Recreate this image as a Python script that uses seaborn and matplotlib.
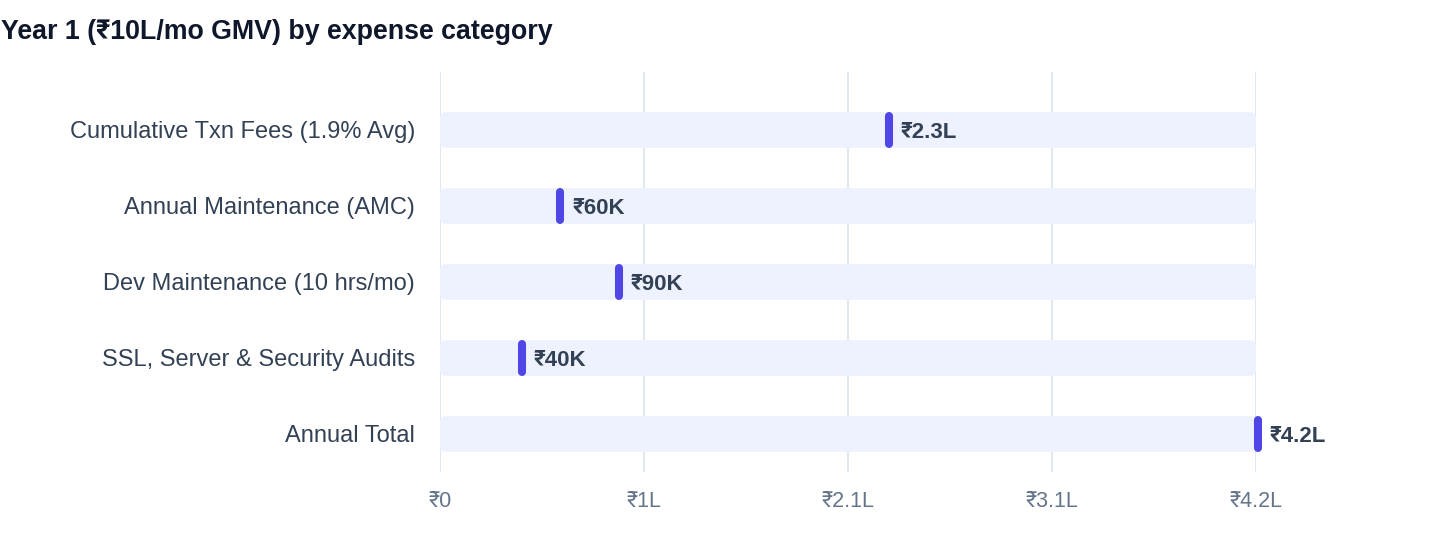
import matplotlib
matplotlib.use("Agg")
import matplotlib.pyplot as plt
from matplotlib.patches import FancyBboxPatch
import seaborn as sns
import pandas as pd

#chart data
categories = [
    "Cumulative Txn Fees (1.9% Avg)",
    "Annual Maintenance (AMC)",
    "Dev Maintenance (10 hrs/mo)",
    "SSL, Server & Security Audits",
    "Annual Total",
]
values = [231000, 62000, 92000, 42000, 421000]
value_labels = ["₹2.3L", "₹60K", "₹90K", "₹40K", "₹4.2L"]
track_max = 420000
tick_values = [0, 105000, 210000, 315000, 420000]
tick_labels = ["₹0", "₹1L", "₹2.1L", "₹3.1L", "₹4.2L"]

df = pd.DataFrame({"category": categories, "value": values, "track": [track_max] * len(categories)})

sns.set_style("white")
plt.rcParams["font.family"] = ["Liberation Sans", "Roboto", "Inter", "Noto Sans", "DejaVu Sans"]

fig = plt.figure(figsize=(14.4, 5.6), dpi=100)
ax = fig.add_axes([440 / 1440, 1 - 472 / 560, 816 / 1440, 400 / 560])

#background tracks
sns.barplot(data=df, x="track", y="category", color="#EEF2FF", width=0.47,
            saturation=1, ax=ax, zorder=2)

ax.set_xlim(0, track_max)
ax.set_ylim(4.5, -0.763)

#swap plain bars for rounded ones
px_x = track_max / 816
px_y = 1 / 76
for p in list(ax.patches):
    x0, y0 = p.get_x(), p.get_y()
    w, h = p.get_width(), p.get_height()
    rp = FancyBboxPatch((x0, y0), w, h,
                        boxstyle=f"round,pad=0,rounding_size={6 * px_x}",
                        mutation_aspect=px_y / px_x,
                        facecolor="#EEF2FF", edgecolor="none", zorder=2)
    p.remove()
    ax.add_patch(rp)

#value markers + labels
for i, (v, lab) in enumerate(zip(df["value"], value_labels)):
    ax.plot([v, v], [i - 0.18, i + 0.18], color="#4F46E5", lw=5.8,
            solid_capstyle="round", zorder=4, clip_on=False)
    ax.annotate(lab, (v, i), xytext=(8.5, -1.5), textcoords="offset points",
                va="center", ha="left", fontsize=16, fontweight="bold",
                color="#334155", zorder=5, annotation_clip=False)

#axes styling
ax.set_xticks(tick_values)
ax.set_xticklabels(tick_labels)
ax.grid(axis="x", color="#E2E8F0", lw=1.5, zorder=0)
ax.grid(axis="y", visible=False)
ax.set_axisbelow(True)
ax.tick_params(axis="x", length=0, pad=14, labelsize=15.5, labelcolor="#64748B")
ax.tick_params(axis="y", length=0, pad=18, labelsize=17, labelcolor="#334155")
ax.set_xlabel("")
ax.set_ylabel("")
sns.despine(ax=ax, left=True, bottom=True)

fig.text(0.001, 1 - 32 / 560, "Year 1 (₹10L/mo GMV) by expense category",
         fontsize=19.3, fontweight="bold", color="#0F172A", va="center", ha="left")

fig.savefig("out.png", dpi=100)
plt.close(fig)
